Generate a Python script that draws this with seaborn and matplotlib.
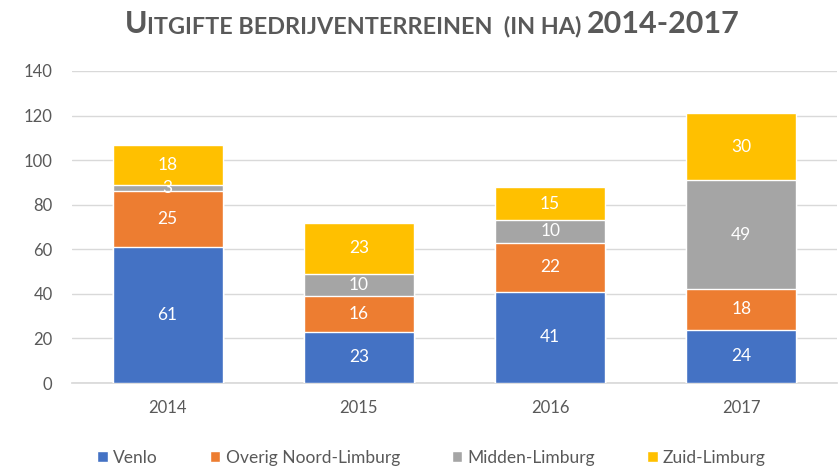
import numpy as np
import pandas as pd
import seaborn as sns
import matplotlib.pyplot as plt

years = ['2014', '2015', '2016', '2017']
regions = ['Venlo', 'Overig Noord-Limburg', 'Midden-Limburg', 'Zuid-Limburg']
venlo = [61, 23, 41, 24]
overig_noord = [25, 16, 22, 18]
midden = [3, 10, 10, 49]
zuid = [18, 23, 15, 30]
colors = ['#4472C4', '#ED7D31', '#A5A5A5', '#FFC000']

sns.set_theme(style='white')
plt.rcParams['font.family'] = ['Lato', 'DejaVu Sans']
txt = '#595959'

df = pd.DataFrame({'year': years, 'Venlo': venlo, 'Overig Noord-Limburg': overig_noord,
                   'Midden-Limburg': midden, 'Zuid-Limburg': zuid})
cum = df[regions].cumsum(axis=1)

fig = plt.figure(figsize=(8.39, 4.67), dpi=100)
ax = fig.add_axes([72 / 839, 1 - 383 / 467, 765 / 839, 312 / 467])

# draw stacked bars by overplotting cumulative totals, top segment first
for reg, col in reversed(list(zip(regions, colors))):
    sns.barplot(x=df['year'], y=cum[reg], color=col, width=0.575, ax=ax,
                saturation=1, label=reg, zorder=3)

for i in range(len(years)):
    bottom = 0
    for reg in regions:
        v = df.loc[i, reg]
        ax.text(i, bottom + v / 2, str(v), ha='center', va='center',
                color='white', fontsize=12.5, zorder=5)
        bottom += v

ax.set_ylim(0, 140)
ax.set_xlim(-0.5, 3.5)
ax.set_yticks(range(0, 141, 20))
ax.yaxis.grid(True, color='#D9D9D9', lw=1, zorder=0)
ax.set_axisbelow(True)
for s in ['top', 'right', 'left']:
    ax.spines[s].set_visible(False)
ax.spines['bottom'].set_color('#D9D9D9')
ax.set_xlabel('')
ax.set_ylabel('')
ax.tick_params(axis='both', length=0, labelsize=12, labelcolor=txt)
ax.tick_params(axis='x', pad=12)
ax.tick_params(axis='y', pad=14)

handles, labels = ax.get_legend_handles_labels()
order = [labels.index(r) for r in regions]
ax.legend([handles[k] for k in order], regions, loc='center', bbox_to_anchor=(0.47, -0.24),
          ncol=4, frameon=False, fontsize=12.5, labelcolor=txt, handlelength=0.6,
          handleheight=0.6, handletextpad=0.3, columnspacing=3.0)

# small-caps style title
pieces = [('U', 22), ('ITGIFTE BEDRIJVENTERREINEN  (IN HA) ', 16.8), ('2014-2017', 22)]
fig.canvas.draw()
r = fig.canvas.get_renderer()
objs = []
for s, fs in pieces:
    t = fig.text(0, 1 - 33 / 467, s, fontsize=fs, fontweight='bold', color=txt, va='baseline')
    objs.append(t)
widths = [t.get_window_extent(r).width for t in objs]
x = 432 - sum(widths) / 2
for t, w in zip(objs, widths):
    t.set_x(x / 839)
    x += w

fig.savefig('out.png', dpi=100)
